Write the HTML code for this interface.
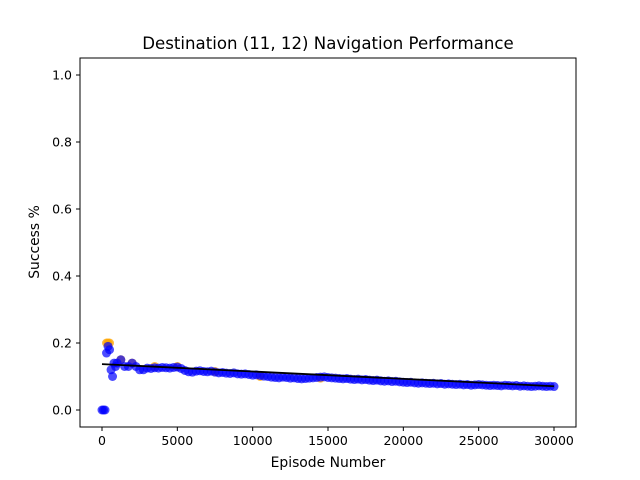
<!DOCTYPE html>
<html><head><meta charset="utf-8"><style>
body{margin:0;background:#fff}
svg{display:block;font-family:"DejaVu Sans","Liberation Sans",sans-serif}
</style></head><body>
<svg id="chart" width="640" height="480">
<rect width="640" height="480" fill="#fff"/>
<text x="328" y="49" font-size="16.6" text-anchor="middle">Destination (11, 12) Navigation Performance</text>
<g id="plot"></g>
<g id="axes"></g>
<text x="328" y="467" font-size="13.9" text-anchor="middle">Episode Number</text>
<text transform="translate(39,242) rotate(-90)" font-size="13.9" text-anchor="middle">Success %</text>
</svg>
<script>
const xTicks=[0,5000,10000,15000,20000,25000,30000];
const yTicks=[0.0,0.2,0.4,0.6,0.8,1.0];
const yTickLabels=["0.0","0.2","0.4","0.6","0.8","1.0"];
const earlyEpisodes=[0,100,200,300,400,500,600,700,800,900,1000,1250,1500,1750,2000,2250,2500,2750];
const earlyBlue=[0,0,0,0.17,0.19,0.18,0.12,0.10,0.14,0.13,0.14,0.15,0.13,0.13,0.14,0.13,0.12,0.12];
const lateBlue=[.125,.124,.126,.125,.127,.126,.125,.127,.128,
.124,.118,.114,.113,.116,.117,.115,.114,
.116,.113,.111,.112,.110,.109,.111,.108,
.107,.108,.106,.104,.105,.103,.101,.100,
.098,.097,.096,.098,.097,.095,.096,.094,
.093,.094,.095,.096,.097,.098,.099,.097,
.096,.095,.094,.093,.094,.092,.091,.092,
.090,.091,.089,.088,.089,.087,.086,.087,
.085,.086,.084,.083,.082,.083,.081,.080,
.081,.080,.079,.080,.078,.079,.077,.078,
.077,.076,.077,.075,.076,.074,.075,.076,
.075,.074,.073,.074,.073,.072,.074,.073,
.072,.073,.071,.072,.071,.070,.071,.072,
.071,.070,.071,.070];
const orangeEpisodes=[300,400,500,1250,2000,3500,5000,7500,10500,14500];
const orangeValues=[0.2,0.2,0.2,0.15,0.14,0.13,0.13,0.115,0.1,0.095];
const trendEpisodes=[0,30000];
const trendValues=[0.137,0.071];

const X0=102,X1=554,Y0=410,Y1=75;
const xs=v=>X0+(X1-X0)*v/30000;
const ys=v=>Y0-(Y0-Y1)*v;
const NS="http://www.w3.org/2000/svg";
const plot=document.getElementById('plot'),axes=document.getElementById('axes');
function mk(tag,attrs,parent){const e=document.createElementNS(NS,tag);for(const k in attrs)e.setAttribute(k,attrs[k]);parent.appendChild(e);return e;}

const blueEp=earlyEpisodes.slice(),blueVal=earlyBlue.slice();
for(let i=0;i<lateBlue.length;i++){blueEp.push(3000+250*i);blueVal.push(lateBlue[i]);}

orangeEpisodes.forEach((ep,i)=>{
 const c=mk('circle',{cx:xs(ep),cy:ys(orangeValues[i]),r:4.5,fill:'orange','fill-opacity':0.75},plot);
 
 
});
blueEp.forEach((ep,i)=>{
 const c=mk('circle',{cx:xs(ep),cy:ys(blueVal[i]),r:4.5,fill:'blue','fill-opacity':0.7},plot);
 
 
});
const tl=mk('line',{x1:xs(trendEpisodes[0]),y1:ys(trendValues[0]),x2:xs(trendEpisodes[1]),y2:ys(trendValues[1]),stroke:'#000','stroke-width':1.8},plot);



const fr=mk('rect',{x:80,y:58,width:496,height:369,fill:'none',stroke:'#000','stroke-width':1},axes);


xTicks.forEach(t=>{
 const x=xs(t);
 mk('line',{x1:x,y1:427,x2:x,y2:431,stroke:'#000'},axes);
 const tx=mk('text',{x:x,y:445,'font-size':12.5,'text-anchor':'middle'},axes);
 tx.textContent=String(t);
 
 
});
yTicks.forEach((t,i)=>{
 const y=ys(t);
 mk('line',{x1:76,y1:y,x2:80,y2:y,stroke:'#000'},axes);
 const tx=mk('text',{x:72,y:y+4.5,'font-size':12.5,'text-anchor':'end'},axes);
 tx.textContent=yTickLabels[i];
 
 
});
</script>
</body></html>
